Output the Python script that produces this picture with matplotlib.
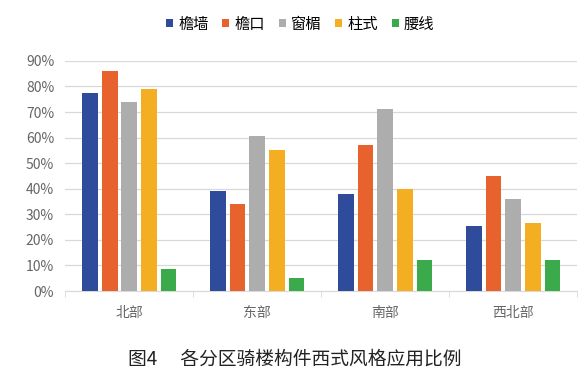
import numpy as np
import matplotlib.pyplot as plt
from matplotlib.ticker import FuncFormatter

plt.rcParams['font.family'] = ['Noto Sans CJK SC', 'DejaVu Sans']

regions = ['北部', '东部', '南部', '西北部']
series = ['檐墙', '檐口', '窗楣', '柱式', '腰线']
colors = ['#2E4C9B', '#E7622C', '#ADADAD', '#F4AE21', '#3BAA4A']

yanqiang = [77.3, 39.2, 38.0, 25.6]
yankou = [86.1, 34.0, 57.0, 45.0]
chuangmei = [74.0, 60.5, 71.0, 35.8]
zhushi = [79.0, 55.0, 40.0, 26.5]
yaoxian = [8.6, 5.0, 12.0, 12.2]
values = [yanqiang, yankou, chuangmei, zhushi, yaoxian]

fig = plt.figure(figsize=(5.83, 3.76), dpi=100)
ax = fig.add_axes([0.112, 0.226, 0.878, 0.612])

x = np.arange(len(regions))
w = 0.122
pitch = 0.153
for i, (name, vals) in enumerate(zip(series, values)):
    ax.bar(x + (i - 2) * pitch, vals, w, color=colors[i], label=name, zorder=3)

ax.set_ylim(0, 90)
ax.set_xlim(-0.5, 3.5)
ax.set_yticks(range(0, 91, 10))
ax.yaxis.set_major_formatter(FuncFormatter(lambda v, p: f'{int(v)}%'))
ax.grid(axis='y', color='#D9D9D9', linewidth=0.9, zorder=0)
for s in ['top', 'right', 'left']:
    ax.spines[s].set_visible(False)
ax.spines['bottom'].set_color('#D9D9D9')
ax.tick_params(axis='y', length=0, labelsize=10, labelcolor='#666666', pad=8)
ax.set_xticks(x)
ax.set_xticklabels(regions)
ax.tick_params(axis='x', length=0, labelsize=10, labelcolor='#666666', pad=11)
ax.set_xticks(np.arange(-0.5, 4.0, 1.0), minor=True)
ax.tick_params(axis='x', which='minor', length=4, color='#D9D9D9')

fig.legend(loc='upper center', bbox_to_anchor=(0.515, 0.995), ncol=5, frameon=False,
           fontsize=11, handlelength=0.45, handleheight=0.45, handletextpad=0.35,
           columnspacing=0.9)

fig.text(0.505, 0.045, '图4　 各分区骑楼构件西式风格应用比例', ha='center', va='center',
         fontsize=13.5, color='#222222', fontweight='medium')

fig.savefig('out.png', dpi=100)
